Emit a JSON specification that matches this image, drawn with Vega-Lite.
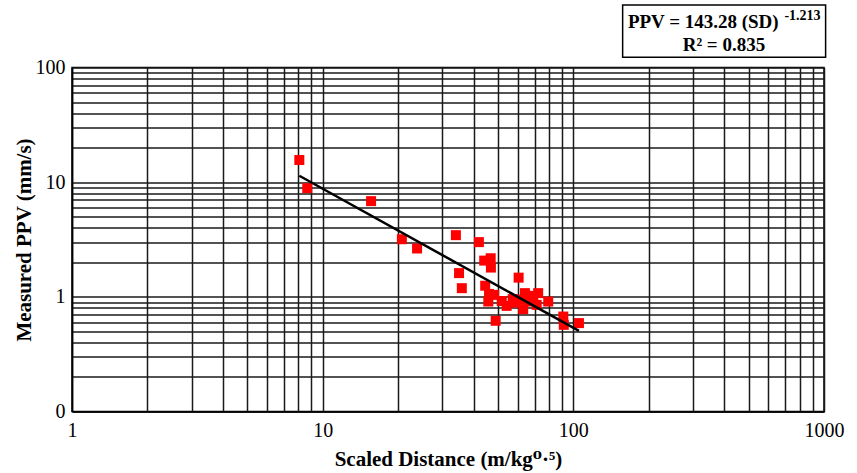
{
  "$schema": "https://vega.github.io/schema/vega-lite/v6.json",
  "width": 752,
  "height": 344,
  "autosize": {"type": "none"},
  "padding": {"left": 72, "top": 67.5, "right": 33, "bottom": 61.3},
  "background": "white",
  "config": {
    "view": {"stroke": "black", "strokeWidth": 1.5},
    "font": "Liberation Serif"
  },
  "datasets": {
    "points": [
      {"sd": 8.07, "ppv": 15.6},
      {"sd": 8.68, "ppv": 8.87},
      {"sd": 15.6, "ppv": 6.83},
      {"sd": 20.7, "ppv": 3.18},
      {"sd": 23.8, "ppv": 2.64},
      {"sd": 34.0, "ppv": 3.45},
      {"sd": 42.0, "ppv": 3.0},
      {"sd": 44.1, "ppv": 2.07},
      {"sd": 46.8, "ppv": 2.17},
      {"sd": 46.9, "ppv": 1.8},
      {"sd": 35.0, "ppv": 1.61},
      {"sd": 35.9, "ppv": 1.19},
      {"sd": 60.5, "ppv": 1.47},
      {"sd": 44.5, "ppv": 1.25},
      {"sd": 46.1, "ppv": 1.06},
      {"sd": 48.3, "ppv": 1.04},
      {"sd": 45.8, "ppv": 0.91},
      {"sd": 51.8, "ppv": 0.92},
      {"sd": 54.2, "ppv": 0.834},
      {"sd": 57.3, "ppv": 0.955},
      {"sd": 58.5, "ppv": 0.89},
      {"sd": 49.0, "ppv": 0.618},
      {"sd": 64.1, "ppv": 1.077},
      {"sd": 72.4, "ppv": 1.077},
      {"sd": 69.2, "ppv": 1.02},
      {"sd": 63.1, "ppv": 0.781},
      {"sd": 71.4, "ppv": 0.851},
      {"sd": 79.4, "ppv": 0.91},
      {"sd": 91.2, "ppv": 0.673},
      {"sd": 91.6, "ppv": 0.57},
      {"sd": 105.3, "ppv": 0.59},
      {"sd": 66.2, "ppv": 0.91},
      {"sd": 61.2, "ppv": 0.945}
    ],
    "fit": [
      {"sd": 8.07, "ppv": 11.38},
      {"sd": 105.3, "ppv": 0.505}
    ],
    "note": [{"label": "annotation"}]
  },
  "layer": [
    {
      "data": {"name": "points"},
      "mark": {"type": "point", "shape": "square", "filled": true, "color": "#ff0000", "size": 100, "opacity": 1},
      "encoding": {
        "x": {
          "field": "sd", "type": "quantitative",
          "scale": {"type": "log", "domain": [1, 1000], "nice": false},
          "axis": {
            "title": "Scaled Distance (m/kg⁰·⁵)",
            "titleFont": "'Liberation Serif', 'DejaVu Serif', serif", "titleFontSize": 21, "titleFontWeight": "bold", "titleColor": "black", "titlePadding": 8,
            "values": [1,2,3,4,5,6,7,8,9,10,20,30,40,50,60,70,80,90,100,200,300,400,500,600,700,800,900,1000],
            "labelExpr": "indexof([1,10,100,1000], datum.value) >= 0 ? format(datum.value, 'd') : ''",
            "labelFont": "Liberation Serif", "labelFontSize": 20, "labelColor": "black", "labelPadding": 9,
            "labelFlush": false, "labelOverlap": false,
            "ticks": false, "domain": true, "domainColor": "black", "domainWidth": 1.5,
            "grid": true, "gridColor": "#1a1a1a", "gridWidth": 1.5, "gridOpacity": 1
          }
        },
        "y": {
          "field": "ppv", "type": "quantitative",
          "scale": {"type": "log", "domain": [0.1, 100], "nice": false},
          "axis": {
            "title": "Measured PPV (mm/s)",
            "titleFont": "Liberation Serif", "titleFontSize": 21, "titleFontWeight": "bold", "titleColor": "black", "titlePadding": 1,
            "values": [0.1,0.2,0.3,0.4,0.5,0.6,0.7,0.8,0.9,1,2,3,4,5,6,7,8,9,10,20,30,40,50,60,70,80,90,100],
            "labelExpr": "datum.value == 0.1 ? '0' : (datum.value == 1 || datum.value == 10 || datum.value == 100) ? format(datum.value, 'd') : ''",
            "labelFont": "Liberation Serif", "labelFontSize": 20, "labelColor": "black", "labelPadding": 7,
            "labelFlush": false, "labelOverlap": false,
            "ticks": false, "domain": true, "domainColor": "black", "domainWidth": 1.5,
            "grid": true, "gridColor": "#1a1a1a", "gridWidth": 1.5, "gridOpacity": 1
          }
        }
      }
    },
    {
      "data": {"name": "fit"},
      "mark": {"type": "line", "color": "black", "strokeWidth": 2.5},
      "encoding": {
        "x": {"field": "sd", "type": "quantitative"},
        "y": {"field": "ppv", "type": "quantitative"}
      }
    },
    {
      "data": {"name": "note"},
      "mark": {"type": "rect", "fill": "white", "stroke": "black", "strokeWidth": 1.5, "clip": false},
      "encoding": {
        "x": {"datum": 157.3},
        "x2": {"datum": 1014.9},
        "y": {"datum": 351.4},
        "y2": {"datum": 123}
      }
    },
    {
      "data": {"name": "note"},
      "mark": {"type": "text", "text": "PPV = 143.28 (SD)", "align": "left", "baseline": "alphabetic", "font": "Liberation Serif", "fontWeight": "bold", "fontSize": 19, "color": "black", "clip": false},
      "encoding": {"x": {"datum": 165.1}, "y": {"datum": 221.4}}
    },
    {
      "data": {"name": "note"},
      "mark": {"type": "text", "text": "-1.213", "align": "left", "baseline": "alphabetic", "font": "Liberation Serif", "fontWeight": "bold", "fontSize": 14, "color": "black", "clip": false},
      "encoding": {"x": {"datum": 695}, "y": {"datum": 258}}
    },
    {
      "data": {"name": "note"},
      "mark": {"type": "text", "text": "R² = 0.835", "align": "center", "baseline": "alphabetic", "font": "Liberation Serif", "fontWeight": "bold", "fontSize": 19, "color": "black", "clip": false},
      "encoding": {"x": {"datum": 398.8}, "y": {"datum": 139.5}}
    }
  ]
}
